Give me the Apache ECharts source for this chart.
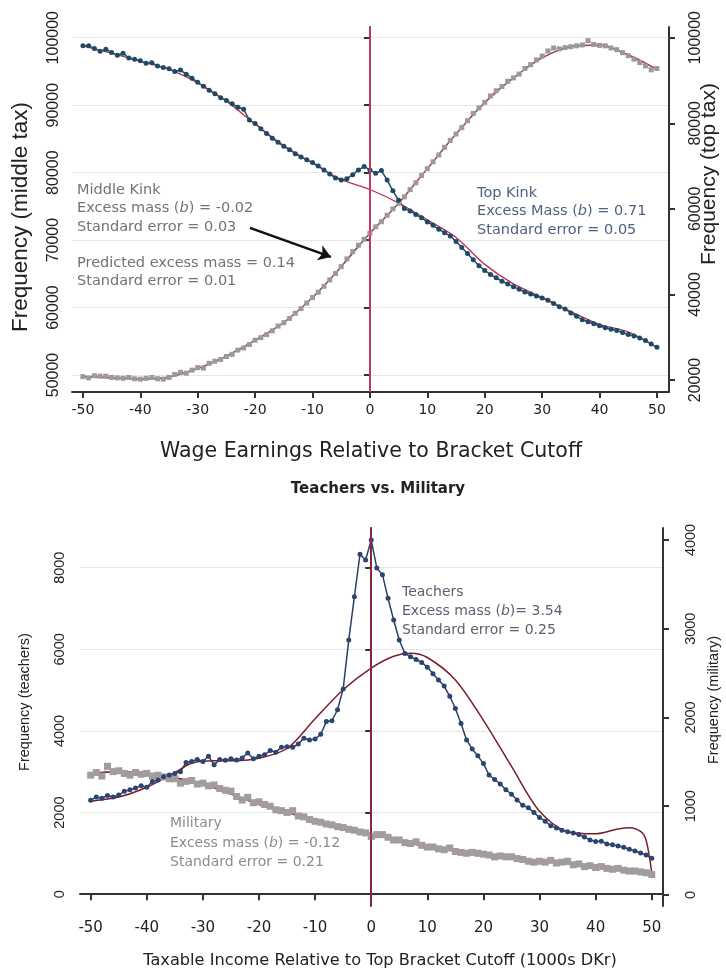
<!DOCTYPE html>
<html>
<head>
<meta charset="utf-8">
<script src="https://cdn.jsdelivr.net/npm/echarts@6/dist/echarts.min.js"></script>
<style>
  html, body { margin: 0; padding: 0; background: #ffffff; }
  #chart { width: 726px; height: 975px; }
</style>
</head>
<body>
<div id="chart"></div>
<script>
// Income bins (distance from the bracket cutoff)
const bins = [-50,-49,-48,-47,-46,-45,-44,-43,-42,-41,-40,-39,-38,-37,-36,-35,-34,-33,-32,-31,
  -30,-29,-28,-27,-26,-25,-24,-23,-22,-21,-20,-19,-18,-17,-16,-15,-14,-13,-12,-11,
  -10,-9,-8,-7,-6,-5,-4,-3,-2,-1,0,1,2,3,4,5,6,7,8,9,10,11,12,13,14,15,16,17,18,19,
  20,21,22,23,24,25,26,27,28,29,30,31,32,33,34,35,36,37,38,39,40,41,42,43,44,45,46,47,48,49,50];
const fitBins = [-50,-45,-40,-35,-30,-25,-20,-15,-10,-5,0,5,10,15,20,25,30,35,40,45,50];
const xTicks = [-50,-40,-30,-20,-10,0,10,20,30,40,50];

// Panel A: wage earnings around the middle and top kinks
const middleTax = [98800,98800,98400,98000,98300,97800,97400,97700,97000,96800,
  96600,96200,96300,95800,95600,95400,95000,95200,94600,94000,
  93400,92800,92200,91700,91100,90700,90200,89700,89400,87800,
  87300,86500,85800,85100,84500,83900,83400,82800,82300,81900,
  81500,81000,80400,79800,79200,78900,79100,79700,80400,80900,
  80400,79900,80300,78900,77300,75900,74700,74300,73800,73300,
  72700,72200,71600,71100,70600,69800,68900,68000,67100,66200,
  65500,64900,64400,63900,63500,63100,62700,62300,62000,61700,
  61400,61100,60600,60100,59800,59200,58700,58200,57900,57600,
  57300,57000,56800,56600,56300,56000,55800,55500,55100,54600,54100];
const middleFit = [98800,97700,96500,95300,93300,90600,87200,84000,81400,79000,
  77500,75500,73000,70400,66400,63500,61500,59400,57500,56400,54100];

const topTax = [20800,20500,21000,20900,20900,20600,20500,20400,20600,20300,
  20200,20400,20600,20300,20200,20600,21300,21800,21600,22300,
  22900,22800,23900,24400,24800,25500,26000,27000,27500,28300,
  29300,29900,30600,31500,32600,33400,34400,35600,36700,38000,
  39300,40500,41900,43400,44900,46500,48300,50000,51500,52900,
  54300,55800,57000,58500,60000,61300,62800,64500,66100,67800,
  69400,71000,72600,74400,76000,77500,79000,80600,82300,83600,
  84900,86400,87600,88600,89800,90600,91500,92800,93700,94800,
  95700,96900,97600,97400,97700,97900,98100,98300,99300,98400,
  98200,98100,97600,97200,96500,95800,95000,94200,93400,92500,92800];
const topFit = [20800,20500,20200,20700,22700,25600,29300,33500,39300,46500,
  54300,61300,69400,77500,84800,90600,95300,97900,98300,96000,92600];

const middleTicks = [50000,60000,70000,80000,90000,100000];
const topTicks = [20000,40000,60000,80000,100000];

// Panel B: teachers vs. military
const teachers = [2300,2380,2350,2420,2380,2430,2520,2560,2600,2660,
  2620,2760,2800,2880,2920,2960,3000,3230,3250,3300,
  3250,3380,3170,3300,3280,3320,3290,3340,3460,3320,
  3380,3420,3520,3480,3600,3610,3600,3680,3820,3780,
  3800,3920,4230,4250,4520,5030,6230,7290,8330,8190,
  8680,7990,7830,7250,6720,6230,5900,5820,5750,5680,
  5560,5400,5250,5100,4850,4550,4180,3780,3560,3390,
  3200,2920,2810,2700,2560,2450,2310,2180,2120,2000,
  1880,1790,1680,1620,1570,1530,1500,1460,1400,1330,
  1290,1300,1230,1210,1180,1150,1100,1060,1010,960,880];
const teachersFitBins = [-50,-45,-40,-35,-32,-28,-24,-20,-15,-10,-5,0,4,7,10,15,20,25,30,35,40,44,46,48,49,50];
const teachersFit = [2280,2380,2620,2980,3210,3270,3270,3330,3570,4300,5010,5540,5830,5905,5800,5250,4260,3130,2030,1530,1480,1600,1630,1540,1320,520];

const military = [1350,1380,1340,1450,1390,1400,1370,1350,1380,1360,
  1370,1340,1350,1330,1310,1310,1260,1280,1290,1250,
  1260,1230,1240,1200,1180,1170,1110,1070,1100,1040,
  1050,1020,1000,960,950,930,950,890,880,850,
  830,820,800,790,770,760,740,730,710,700,
  660,680,680,650,620,620,590,580,600,560,
  540,540,520,510,530,490,480,470,480,470,
  460,450,430,440,430,430,410,400,380,370,
  380,370,390,360,370,380,340,350,320,330,
  310,320,300,290,300,280,270,270,260,250,230];
const militaryFit = [1370,1390,1365,1320,1250,1140,1020,930,840,755,
  690,610,545,495,455,420,385,355,320,285,240];

const teacherTicks = [0,2000,4000,6000,8000];
const militaryTicks = [0,1000,2000,3000,4000];

const pairs = (xs, ys) => xs.map((x, i) => [x, ys[i]]);

const FONT = 'DejaVu Sans';
const VFONT = 'Liberation Sans';
const axisLineStyle = { show: true, lineStyle: { color: '#333', width: 2 } };
const gridLine = { show: true, lineStyle: { color: '#e6e6e6', width: 1 } };
const plain = v => String(v);

function xAxisDef(gridIndex, min, max, margin, size) {
  return {
    type: 'value', gridIndex, min, max,
    axisLine: axisLineStyle,
    axisTick: { show: true, length: 6, lineStyle: { color: '#333', width: 2 }, customValues: xTicks },
    axisLabel: { customValues: xTicks, formatter: plain, margin, color: '#222', fontFamily: FONT, fontSize: size },
    splitLine: { show: false }
  };
}
function yAxisDef(gridIndex, position, min, max, ticks, margin, size, grid) {
  return {
    type: 'value', gridIndex, position, min, max,
    axisLine: axisLineStyle,
    axisTick: { show: true, length: 6, lineStyle: { color: '#333', width: 2 }, customValues: ticks },
    axisLabel: { customValues: ticks, formatter: plain, rotate: 90, margin, color: '#222', fontFamily: VFONT, fontSize: size },
    splitLine: grid ? gridLine : { show: false }
  };
}

function txt(x, y, text, size, fill) {
  return {
    type: 'text', x, y, silent: true,
    style: {
      text, fill, fontSize: size, fontFamily: FONT, align: 'left', verticalAlign: 'middle',
      rich: { i: { fontStyle: 'italic', fontSize: size, fontFamily: FONT, fill } }
    }
  };
}
function vtxt(x, y, text, size) {
  return {
    type: 'text', x, y, rotation: Math.PI / 2, silent: true,
    style: { text, fill: '#222', fontSize: size, fontFamily: VFONT, align: 'center', verticalAlign: 'middle' }
  };
}
function htxt(x, y, text, size, weight) {
  return {
    type: 'text', x, y, silent: true,
    style: { text, fill: '#222', fontSize: size, fontWeight: weight || 'normal', fontFamily: FONT, align: 'center', verticalAlign: 'middle' }
  };
}

const midCol = '#737373', topCol = '#4d6280', teachCol = '#5c6170', milCol = '#8c8c8c';

const option = {
  animation: false,
  backgroundColor: '#ffffff',
  grid: [
    { left: 72, right: 57, top: 27, height: 365 },
    { left: 80, right: 63, top: 528, height: 378 }
  ],
  xAxis: [
    xAxisDef(0, -51.9, 52.1, 11, 14),
    xAxisDef(1, -51.9, 52.0, 15, 15)
  ],
  yAxis: [
    yAxisDef(0, 'left', 47480, 101590, middleTicks, 10, 16, true),
    yAxisDef(0, 'right', 17200, 102500, topTicks, 19, 16, false),
    yAxisDef(1, 'left', -289, 8973, teacherTicks, 13, 14.5, true),
    yAxisDef(1, 'right', -124, 4135, militaryTicks, 20, 14.5, false)
  ],
  series: [
    {
      name: 'Top tax', type: 'line', xAxisIndex: 0, yAxisIndex: 1,
      data: pairs(bins, topTax),
      symbol: 'rect', symbolSize: 5,
      itemStyle: { color: '#9d9999' },
      lineStyle: { color: '#b8b4b4', width: 1 }
    },
    {
      name: 'Top tax fit', type: 'line', xAxisIndex: 0, yAxisIndex: 1,
      data: pairs(fitBins, topFit), smooth: 0.3,
      showSymbol: false, lineStyle: { color: '#a83848', width: 1.5 }
    },
    {
      name: 'Middle tax', type: 'line', xAxisIndex: 0, yAxisIndex: 0,
      data: pairs(bins, middleTax),
      symbol: 'circle', symbolSize: 5,
      itemStyle: { color: '#1d4a66' },
      lineStyle: { color: '#1d4a66', width: 1.5 },
      markLine: {
        silent: true, symbol: 'none', label: { show: false },
        lineStyle: { color: '#ee3d74', width: 1.5, type: 'solid', opacity: 1 },
        data: [{ xAxis: 0 }]
      }
    },
    {
      name: 'Middle tax fit', type: 'line', xAxisIndex: 0, yAxisIndex: 0,
      data: pairs(fitBins, middleFit), smooth: 0.3,
      showSymbol: false, lineStyle: { color: '#b8334a', width: 1.3 },
      markLine: {
        silent: true, symbol: ['none', 'arrow'], symbolSize: 12, label: { show: false },
        lineStyle: { color: '#111', width: 2.5, type: 'solid', opacity: 1 },
        data: [[{ coord: [-20.9, 71810] }, { coord: [-6.8, 67510] }]]
      }
    },
    {
      name: 'Military', type: 'line', xAxisIndex: 1, yAxisIndex: 3,
      data: pairs(bins, military),
      symbol: 'rect', symbolSize: 7,
      itemStyle: { color: '#a29c9c' },
      lineStyle: { color: '#b5afaf', width: 1 }
    },
    {
      name: 'Military fit', type: 'line', xAxisIndex: 1, yAxisIndex: 3,
      data: pairs(fitBins, militaryFit), smooth: 0.3,
      showSymbol: false, lineStyle: { color: '#7d2a30', width: 1.8 }
    },
    {
      name: 'Teachers', type: 'line', xAxisIndex: 1, yAxisIndex: 2,
      data: pairs(bins, teachers),
      symbol: 'circle', symbolSize: 5,
      itemStyle: { color: '#2c4470' },
      lineStyle: { color: '#2c3f66', width: 1.5 },
      markLine: {
        silent: true, symbol: 'none', label: { show: false },
        lineStyle: { color: '#a3204c', width: 1.5, type: 'solid', opacity: 1 },
        data: [{ xAxis: 0 }]
      }
    },
    {
      name: 'Teachers fit', type: 'line', xAxisIndex: 1, yAxisIndex: 2,
      data: pairs(teachersFitBins, teachersFit), smooth: 0.3,
      showSymbol: false, lineStyle: { color: '#7a1e2a', width: 1.5 }
    }
  ],
  graphic: [
    vtxt(21, 217, 'Frequency (middle tax)', 22.5),
    vtxt(709, 174, 'Frequency (top tax)', 21),
    htxt(371, 452, 'Wage Earnings Relative to Bracket Cutoff', 20.5),
    htxt(378, 489, 'Teachers vs. Military', 15, 'bold'),
    vtxt(25, 702, 'Frequency (teachers)', 14.5),
    vtxt(714, 700, 'Frequency (military)', 14.5),
    htxt(380, 961, 'Taxable Income Relative to Top Bracket Cutoff (1000s DKr)', 16.2),

    txt(77, 190, 'Middle Kink', 14.5, midCol),
    txt(77, 208.5, 'Excess mass ({i|b}) = -0.02', 14.5, midCol),
    txt(77, 227, 'Standard error = 0.03', 14.5, midCol),
    txt(77, 263, 'Predicted excess mass = 0.14', 14.5, midCol),
    txt(77, 281.5, 'Standard error = 0.01', 14.5, midCol),

    txt(477, 193, 'Top Kink', 14.5, topCol),
    txt(477, 211.5, 'Excess Mass ({i|b}) = 0.71', 14.5, topCol),
    txt(477, 230, 'Standard error = 0.05', 14.5, topCol),

    txt(402, 592, 'Teachers', 14, teachCol),
    txt(402, 611, 'Excess mass ({i|b})= 3.54', 14, teachCol),
    txt(402, 630, 'Standard error = 0.25', 14, teachCol),

    txt(170, 823, 'Military', 14, milCol),
    txt(170, 843, 'Excess mass ({i|b}) = -0.12', 14, milCol),
    txt(170, 862, 'Standard error = 0.21', 14, milCol)
  ]
};

const chart = echarts.init(document.getElementById('chart'), null, { renderer: 'canvas' });
chart.setOption(option);
</script>
</body>
</html>
